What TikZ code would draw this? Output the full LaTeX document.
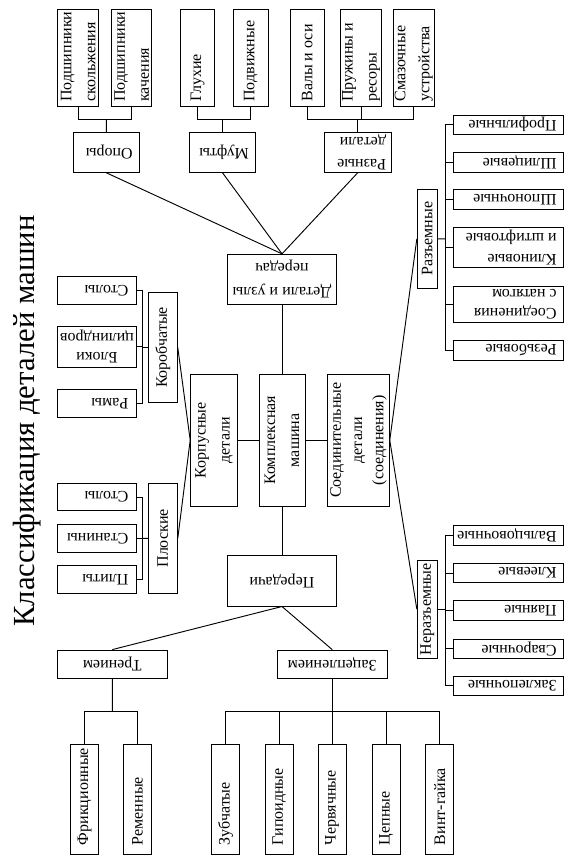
\documentclass[tikz,border=0pt]{standalone}
\usepackage{fontspec}
\setmainfont{Liberation Serif}
\usetikzlibrary{calc}

\newcommand{\uptxt}[2]{\rotatebox{90}{\parbox{#1}{\raggedright#2}}}
\newcommand{\upmid}[2]{\rotatebox{90}{\parbox{#1}{\centering#2}}}
\newcommand{\dntxt}[2]{\rotatebox{180}{\parbox{#1}{\raggedright#2}}}
\newcommand{\dnmid}[2]{\rotatebox{180}{\parbox{#1}{\centering#2}}}

\begin{document}
\begin{tikzpicture}[x=.75pt,y=-.75pt,line width=.7pt,
    box/.style={draw,inner sep=0pt,font=\fontsize{12}{18}\selectfont},
    tight/.style={font=\fontsize{12}{14}\selectfont},
    loose/.style={font=\fontsize{12}{16}\selectfont},
    title/.style={inner sep=0pt,font=\fontsize{23}{28}\selectfont}]

  \useasboundingbox (0,0) rectangle (580,863);

  %%%% Title %%%%
  \node[title,rotate=90,anchor=base] (ttl) at (34.5,421) {Классификация деталей машин};

  %%%% Top row: groups of details and gears %%%%
  \foreach \n/\x/\w/\t in {ps/78.2/30.75/{Подшипники\\скольжения},
      pk/131.7/30/{Подшипники\\качения}, gl/197.5/25.2/Глухие,
      pd/250.8/26.25/Подвижные, vo/307.2/25.7/{Валы и оси},
      pr/361/31/{Пружины и\\ресоры}, sm/413.8/30.75/{Смазочные\\устройства}}{
    \node[box,minimum width=\w pt,minimum height=73pt] (\n) at (\x,58) {\uptxt{65.5pt}{\t}};
  }
  \node[box,minimum width=49.5pt,minimum height=30pt] (op) at (106.3,152.3) {\dntxt{39.5pt}{Опоры}};
  \node[box,minimum width=49.5pt,minimum height=30pt] (mu) at (222.5,152.3) {\dntxt{39.5pt}{Муфты}};
  \node[box,loose,minimum width=50pt,minimum height=30pt] (rd) at (357.7,152.3) {\dntxt{42.5pt}{Разные\\детали}};
  \node[box,minimum width=82.2pt,minimum height=37.3pt] (dp) at (282,279.2) {\dnmid{80pt}{Детали и узлы\\передач}};

  %%%% Centre row %%%%
  \node[box,minimum width=34.5pt,minimum height=98.8pt] (km) at (282,440.2) {\upmid{95pt}{Комплексная\\машина}};
  \node[box,minimum width=35pt,minimum height=98.8pt] (kd) at (214,440.2) {\upmid{95pt}{Корпусные\\детали}};
  \node[box,loose,minimum width=46.2pt,minimum height=98.8pt] (sd) at (358.5,440.2) {\upmid{97pt}{Соединительные\\детали\\(соединения)}};

  %%%% Gears %%%%
  \node[box,minimum width=82.2pt,minimum height=38pt] (pe) at (282,580.7) {\dnmid{80pt}{Передачи}};
  \node[box,minimum width=82.5pt,minimum height=21.2pt] (tr) at (112.3,664.2) {\dnmid{80pt}{Трением}};
  \node[box,minimum width=82.7pt,minimum height=21.2pt] (zc) at (332.2,664.2) {\dnmid{80pt}{Зацеплением}};
  \foreach \n/\x/\t in {fr/84.5/Фрикционные, rmn/137.5/Ременные, zb/225.5/Зубчатые,
      gp/279.3/Гипоидные, chv/332.2/Червячные, cp/386/Цепные, vg/439.7/Винт-гайка}{
    \node[box,minimum width=21pt,minimum height=82.3pt] (\n) at (\x,799.2) {\uptxt{68.8pt}{\t}};
  }

  %%%% Body details %%%%
  \node[box,minimum width=21.75pt,minimum height=82.2pt] (kb) at (162.8,347.5) {\upmid{80pt}{Коробчатые}};
  \node[box,minimum width=21.75pt,minimum height=82.5pt] (pl) at (162.8,538.3) {\upmid{80pt}{Плоские}};
  \foreach \n/\y/\t in {st1/290.3/Столы, rm/403.3/Рамы, st2/497/Столы, sn/538.3/Станины, pt/579.5/Плиты}{
    \node[box,minimum width=59.55pt,minimum height=20.7pt] (\n) at (97,\y) {\dntxt{47pt}{\t}};
  }
  \node[box,tight,minimum width=59.55pt,minimum height=31pt] (bc) at (97,346.7) {\dnmid{57pt}{Блоки\\цилиндров}};

  %%%% Joints %%%%
  \node[box,minimum width=15pt,minimum height=74.25pt] (rz) at (427.3,238.8) {\upmid{72pt}{Разъемные}};
  \node[box,minimum width=15pt,minimum height=73.7pt] (nr) at (427.3,609.2) {\upmid{72pt}{Неразъемные}};
  \foreach \n/\y/\t in {pf/124.7/Профильные, sl/162.5/Шлицевые, sp/199.3/Шпоночные,
      rb/350.3/Резьбовые, vl/535.5/Вальцовочные, kv/573/Клеевые, pn/610.5/Паяные,
      sv/648.7/Сварочные, zk/685.8/Заклепочные}{
    \node[box,minimum width=82.5pt,minimum height=14.5pt] (\n) at (508.3,\y) {\dntxt{72.5pt}{\t}};
  }
  \node[box,loose,minimum width=82.5pt,minimum height=29.7pt] (kl) at (508.3,247.5) {\dntxt{72.5pt}{Клиновые\\и штифтовые}};
  \node[box,tight,minimum width=82.5pt,minimum height=27.2pt] (nt) at (508.3,304.2) {\dntxt{72.5pt}{Соединения\\с натягом}};

  %%%% Connectors %%%%
  %% top brackets
  \coordinate (opj) at ($(op.north)!.5!(op.north |- ps.south)$);
  \coordinate (muj) at ($(mu.north)!.5!(mu.north |- gl.south)$);
  \coordinate (rdj) at ($(rd.north)!.5!(rd.north |- vo.south)$);
  \draw (ps.south) |- (opj) -| (pk.south);
  \draw (gl.south) |- (muj) -| (pd.south);
  \draw (vo.south) |- (rdj) -| (sm.south);
  \draw (pr.south) -- (pr.south |- rdj);
  \foreach \n in {op,mu,rd}{
    \draw (\n.north) -- (\n j);
    \draw (\n.south) -- (dp.north);
  }
  %% centre
  \draw (dp.south) -- (km.north);
  \draw (kd.east) -- (km.west);
  \draw (km.east) -- (sd.west);
  \draw (km.south) -- (pe.north);
  \draw (pe.south) -- (tr.north);
  \draw (pe.south) -- (zc.north);
  %% bottom brackets
  \coordinate (trj) at ($(tr.south)!.5!(tr.south |- fr.north)$);
  \coordinate (zcj) at ($(zc.south)!.5!(zc.south |- zb.north)$);
  \draw (fr.north) |- (trj) -| (rmn.north);
  \draw (zb.north) |- (zcj) -| (vg.north);
  \foreach \n in {gp,chv,cp}
    \draw (\n.north) -- (\n.north |- zcj);
  \draw (tr.south) -- (trj);
  \draw (zc.south) -- (zcj);
  %% body details
  \coordinate (kbj) at ($(kb.west)!.5!(kb.west -| st1.east)$);
  \coordinate (plj) at ($(pl.west)!.5!(pl.west -| st2.east)$);
  \draw (st1.east) -| (kbj) |- (rm.east);
  \draw (bc.east) -- (bc.east -| kbj);
  \draw (st2.east) -| (plj) |- (pt.east);
  \draw (sn.east) -- (sn.east -| plj);
  \draw (kb.west) -- (kbj);
  \draw (pl.west) -- (plj);
  \draw (kb.east) -- (kd.west);
  \draw (pl.east) -- (kd.west);
  %% joints
  \coordinate (rzj) at ($(rz.east)!.5!(rz.east -| pf.west)$);
  \coordinate (nrj) at ($(nr.east)!.5!(nr.east -| vl.west)$);
  \draw (pf.west) -| (rzj) |- (rb.west);
  \foreach \n in {sl,sp,kl,nt}
    \draw (\n.west) -- (\n.west -| rzj);
  \draw (vl.west) -| (nrj) |- (zk.west);
  \foreach \n in {kv,pn,sv}
    \draw (\n.west) -- (\n.west -| nrj);
  \draw (rz.east) -- (rzj);
  \draw (nr.east) -- (nrj);
  \draw (sd.east) -- (rz.west);
  \draw (sd.east) -- (nr.west);

\end{tikzpicture}
\end{document}
